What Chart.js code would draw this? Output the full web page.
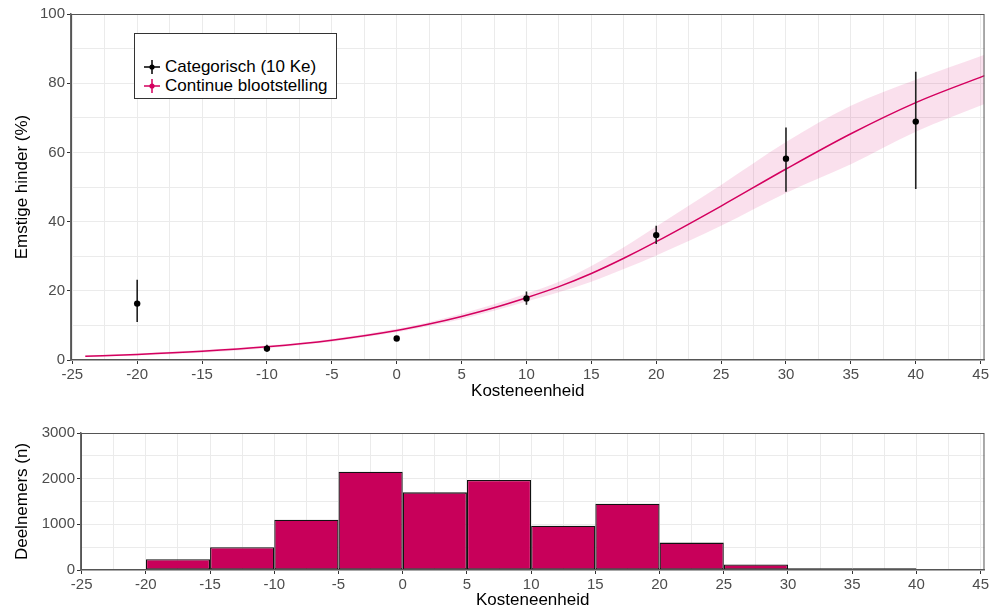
<!DOCTYPE html>
<html>
<head>
<meta charset="utf-8">
<script src="https://cdn.jsdelivr.net/npm/chart.js@4/dist/chart.umd.min.js"></script>
<style>
html,body{margin:0;padding:0;background:#fff;width:991px;height:610px;overflow:hidden}
canvas{position:absolute;left:0}
#top{top:0}
#bot{top:405px}
.legend{position:absolute;left:134px;top:33px;width:201px;height:64px;border:1px solid #333;background:#fff;font:17px "Liberation Sans",Arial,sans-serif;color:#000;z-index:2}
.item{position:absolute;left:0;height:20px;line-height:20px;white-space:nowrap}
.item svg{position:absolute;left:9px;top:2px}
.item span{position:absolute;left:30px}
</style>
</head>
<body>
<canvas id="top" width="991" height="405"></canvas>
<canvas id="bot" width="991" height="215"></canvas>
<div class="legend">
  <div class="item" style="top:23px"><svg width="16" height="16"><path d="M0 8H16M8 1V15" stroke="#000" stroke-width="1.5"/><circle cx="8" cy="8" r="2.6" fill="#000"/></svg><span>Categorisch (10 Ke)</span></div>
  <div class="item" style="top:42px"><svg width="16" height="16"><path d="M0 8H16M8 1V15" stroke="#d4005f" stroke-width="1.5"/><circle cx="8" cy="8" r="2.6" fill="#d4005f"/></svg><span>Continue blootstelling</span></div>
</div>
<script>
// categorical estimates (point + interval)
const catX = [-20, -10, 0, 10, 20, 30, 40]
const catY = [16.3, 3.3, 6.2, 17.8, 36.1, 58.2, 68.9]
const catLo = [11.0, 2.4, 5.6, 16.0, 33.5, 48.6, 49.4]
const catHi = [23.2, 4.4, 6.8, 19.8, 38.8, 67.2, 83.3]

// continuous fit with confidence band
const fitX = [-24, -20, -15, -10, -5, 0, 2.5, 5, 7.5, 10, 12.5, 15, 17.5, 20, 25, 30, 35, 40, 45.3]
const fitY = [1.1, 1.6, 2.5, 3.8, 5.7, 8.5, 10.4, 12.6, 15.1, 18.0, 21.2, 25.0, 29.4, 34.2, 44.5, 55.2, 65.4, 74.4, 82.2]
const fitLo = [0.9, 1.3, 2.1, 3.4, 5.3, 8.0, 9.8, 11.8, 14.2, 16.9, 19.6, 22.6, 26.3, 30.2, 38.8, 48.3, 56.6, 66.0, 74.0]
const fitHi = [1.3, 1.9, 2.9, 4.2, 6.1, 9.0, 11.0, 13.4, 16.1, 19.2, 22.6, 27.2, 32.6, 38.6, 50.6, 63.0, 73.5, 81.0, 88.2]

// histogram of participants
const binStart = [-25, -20, -15, -10, -5, 0, 5, 10, 15, 20, 25, 30, 35]
const binW = 5
const counts = [20, 235, 500, 1100, 2150, 1700, 1970, 970, 1450, 600, 120, 40, 40]

const xTicks = [-25, -20, -15, -10, -5, 0, 5, 10, 15, 20, 25, 30, 35, 40, 45]
const yTicksTop = [0, 20, 40, 60, 80, 100]
const yTicksBot = [0, 1000, 2000, 3000]

const FONT = '"Liberation Sans", Arial, sans-serif'
const PINK = '#d4005f'
Chart.defaults.font.family = FONT
Chart.defaults.color = '#4d4d4d'
Chart.defaults.animation = false

const frame = { id:'frame', afterDraw(c){ const a=c.chartArea, x=c.ctx; x.save(); x.strokeStyle='#555'; x.lineWidth=1; x.strokeRect(a.left+.5, a.top+.5, a.right-a.left-1, a.bottom-a.top-1); x.restore() } }

function axis(major, minorStep, min, max, title, titlePad, isX){
  const grid = major.flatMap(v=> [v, v+minorStep]).filter(v=> v<=max)
  return {
    type:'linear', min, max, offset:false,
    afterBuildTicks: s=>{ s.ticks = grid.map(value=>({value})) },
    afterFit: s=>{ if(isX) s.height = isX; },
    ticks:{ autoSkip:false, maxRotation:0, minRotation:0, padding:2, font:{size:15}, color:'#4d4d4d', callback: v=> major.includes(v) ? String(v) : '' },
    grid:{ offset:false, color:'#ebebeb', lineWidth:1, tickLength:4, tickColor: ctx=> (ctx.tick && major.includes(ctx.tick.value)) ? '#333' : 'rgba(0,0,0,0)' },
    border:{ color:'#666', width:1.5 },
    title:{ display:true, text:title, color:'#000', font:{size:17}, padding:titlePad }
  }
}

const pts = (xs, ys)=> xs.map((x,i)=> ({x, y:ys[i]}))
const errData = []
catX.forEach((x,i)=> errData.push({x, y:catLo[i]}, {x, y:catHi[i]}, {x, y:null}))

const topX = axis(xTicks, 2.5, -25.1, 45.3, 'Kosteneenheid', {top:0, bottom:3.4}, 45)
const topY = axis(yTicksTop, 10, 0, 100, 'Emstige hinder (%)', {top:12.2, bottom:0})
topY.afterFit = s=>{ s.width = 71 }

new Chart(document.getElementById('top'), {
  type:'line',
  data:{ datasets:[
    { data:pts(fitX, fitLo), borderWidth:0, pointRadius:0, fill:false, cubicInterpolationMode:'monotone', order:4 },
    { data:pts(fitX, fitHi), borderWidth:0, pointRadius:0, fill:'-1', backgroundColor:'rgba(214,0,106,0.12)', cubicInterpolationMode:'monotone', order:3 },
    { data:pts(fitX, fitY), borderColor:PINK, borderWidth:1.5, pointRadius:0, fill:false, cubicInterpolationMode:'monotone', order:2 },
    { data:errData, borderColor:'#222', borderWidth:1.6, pointRadius:0, spanGaps:false, fill:false, order:1 },
    { data:pts(catX, catY), showLine:false, pointRadius:3.2, pointBorderWidth:0, backgroundColor:'#000', order:0 }
  ]},
  options:{ responsive:false, animation:false, layout:{ padding:{left:0, right:6, top:14, bottom:0} },
    plugins:{ legend:{display:false}, tooltip:{enabled:false} },
    scales:{ x:topX, y:topY } },
  plugins:[frame]
})

const botX = axis(xTicks, 2.5, -25.05, 45.3, 'Kosteneenheid', {top:0, bottom:9}, 50)
const botY = axis(yTicksBot, 500, 0, 3000, 'Deelnemers (n)', {top:12.2, bottom:0})
botY.afterFit = s=>{ s.width = 81 }

new Chart(document.getElementById('bot'), {
  type:'bar',
  data:{ datasets:[{
    data: binStart.map((s,i)=> ({x:s+binW/2, y:counts[i]})),
    backgroundColor:'#c8005a', borderColor:'#111', borderWidth:1.3, borderSkipped:false,
    // bar width follows the smallest tick gap (2.5), so 2x gives one full bin
    barPercentage:2, categoryPercentage:1
  }]},
  options:{ responsive:false, animation:false, layout:{ padding:{left:0, right:6, top:28, bottom:0} },
    plugins:{ legend:{display:false}, tooltip:{enabled:false} },
    scales:{ x:botX, y:botY } },
  plugins:[frame]
})
</script>
</body>
</html>
